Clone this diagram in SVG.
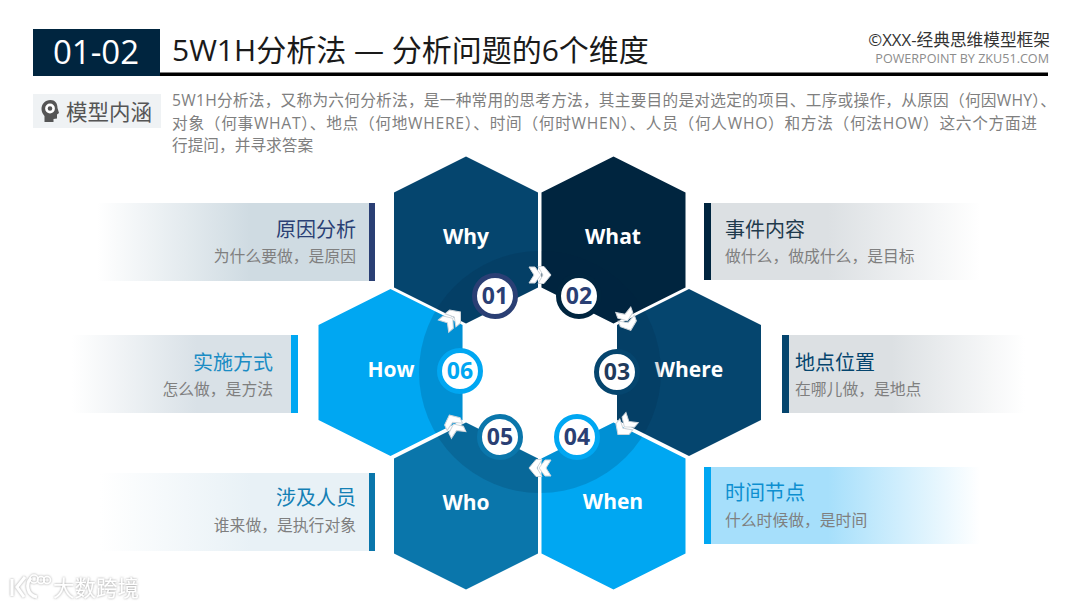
<svg xmlns="http://www.w3.org/2000/svg" xmlns:xlink="http://www.w3.org/1999/xlink" width="1080" height="608" viewBox="0 0 1080 608">
<style>
.cn{font-family:"Open Sans","Noto Sans CJK SC","Noto Sans",sans-serif}
.ti{font-size:20px}
.su{font-size:15.800px;fill:#7f7f7f}
.r{text-anchor:end}
.hx{font-family:"Open Sans","Noto Sans",sans-serif;font-weight:700;font-size:21px;fill:#fff;text-anchor:middle}
.num{font-family:"Open Sans","Noto Sans",sans-serif;font-weight:700;font-size:23px;text-anchor:middle}
.body{font-size:15.700px;fill:#7f7f7f}
.bd{fill:#fff;stroke-width:5}
</style>
<defs>
<linearGradient id="gL1" x1="0" x2="1" y1="0" y2="0"><stop offset="0" stop-color="#cfdbe2" stop-opacity="0"/><stop offset=".55" stop-color="#cfdbe2"/><stop offset="1" stop-color="#cfdbe2"/></linearGradient>
<linearGradient id="gL2" x1="0" x2="1" y1="0" y2="0"><stop offset="0" stop-color="#d9e1e7" stop-opacity="0"/><stop offset=".55" stop-color="#d9e1e7"/><stop offset="1" stop-color="#d9e1e7"/></linearGradient>
<linearGradient id="gL3" x1="0" x2="1" y1="0" y2="0"><stop offset="0" stop-color="#e8f1f6" stop-opacity="0"/><stop offset=".55" stop-color="#e8f1f6"/><stop offset="1" stop-color="#e8f1f6"/></linearGradient>
<linearGradient id="gR1" x1="0" x2="1" y1="0" y2="0"><stop offset="0" stop-color="#dce0e3"/><stop offset=".45" stop-color="#dce0e3"/><stop offset="1" stop-color="#dce0e3" stop-opacity="0"/></linearGradient>
<linearGradient id="gR3" x1="0" x2="1" y1="0" y2="0"><stop offset="0" stop-color="#a6dffb"/><stop offset=".45" stop-color="#a6dffb"/><stop offset="1" stop-color="#a6dffb" stop-opacity="0"/></linearGradient>
<polygon id="hex" points="72,0 144,36 144,131 72,167 0,131 0,36"/>
<clipPath id="hexClip">
<use xlink:href="#hex" href="#hex" transform="translate(394,156.500)"/>
<use xlink:href="#hex" href="#hex" transform="translate(541.500,156.500)"/>
<use xlink:href="#hex" href="#hex" transform="translate(617,289)"/>
<use xlink:href="#hex" href="#hex" transform="translate(541.500,422.500)"/>
<use xlink:href="#hex" href="#hex" transform="translate(394,422.500)"/>
<use xlink:href="#hex" href="#hex" transform="translate(318.500,289)"/>
</clipPath>
<path id="chev" d="M-11,-8 L-5,-8 L1,0 L-5,8 L-11,8 L-6,0 Z M-2,-8.500 L4,-8.500 L11,0 L4,8.500 L-2,8.500 L3,0 Z" fill="#fff" stroke="#cfd5da" stroke-width="1"/>
<filter id="wm" x="-10%" y="-30%" width="120%" height="160%"><feDropShadow dx="0" dy="0" stdDeviation="1.300" flood-color="#8a8a8a" flood-opacity=".9"/></filter>
</defs>
<rect width="1080" height="608" fill="#fff"/>

<g id="header">
<rect x="33" y="29" width="127" height="47" fill="#00253f"/>
<rect x="160" y="72.500" width="888" height="3.500" fill="#000"/>
<text class="cn" x="96" y="64" text-anchor="middle" font-size="33" fill="#fff">01-02</text>
<text class="cn" x="172" y="61" font-size="30" fill="#1a1a1a">5W1H分析法 — 分析问题的6个维度</text>
<text class="cn r" x="1050" y="46" font-size="16.700" fill="#333">©XXX-经典思维模型框架</text>
<text class="cn r" x="1049" y="63" font-size="12.600" fill="#8c8c8c">POWERPOINT BY ZKU51.COM</text>
</g>

<g id="intro">
<rect x="33" y="94" width="128" height="34" fill="#eff2f4"/>
<path d="M50.500,100 C45,100 41.500,104 41.500,109 C41.500,112 43,114 44.500,116 L44.500,122 L53.500,122 L53.500,119 L57,118.500 L57,114.500 L59,113 L57.500,108 C57.500,103 55,100 50.500,100 Z" fill="#555"/>
<circle cx="50" cy="108.500" r="3.600" fill="#555" stroke="#fff" stroke-width="2.600"/>
<text class="cn" x="66" y="120" font-size="21.500" fill="#555">模型内涵</text>
<text class="cn body" x="172" y="106" textLength="884" lengthAdjust="spacing">5W1H分析法，又称为六何分析法，是一种常用的思考方法，其主要目的是对选定的项目、工序或操作，从原因（何因WHY）、</text>
<text class="cn body" x="172" y="129" textLength="865" lengthAdjust="spacing">对象（何事WHAT）、地点（何地WHERE）、时间（何时WHEN）、人员（何人WHO）和方法（何法HOW）这六个方面进</text>
<text class="cn body" x="172" y="151">行提问，并寻求答案</text>
</g>

<g id="panel-why">
<rect x="97" y="203" width="278" height="78" fill="url(#gL1)"/>
<rect x="369" y="203" width="6" height="78" fill="#2a3f74"/>
<text class="cn ti r" x="356" y="237" fill="#2a3f74">原因分析</text>
<text class="cn su r" x="356" y="262">为什么要做，是原因</text>
</g>
<g id="panel-how">
<rect x="72" y="335" width="226" height="78" fill="url(#gL2)"/>
<rect x="291" y="335" width="7" height="78" fill="#00a7f2"/>
<text class="cn ti r" x="273" y="370" fill="#1b8cc4">实施方式</text>
<text class="cn su r" x="273" y="395">怎么做，是方法</text>
</g>
<g id="panel-who">
<rect x="100" y="473" width="275" height="78" fill="url(#gL3)"/>
<rect x="369" y="473" width="6" height="78" fill="#0a76ab"/>
<text class="cn ti r" x="356" y="505" fill="#1480b5">涉及人员</text>
<text class="cn su r" x="356" y="531">谁来做，是执行对象</text>
</g>
<g id="panel-what">
<rect x="704" y="203" width="276" height="77" fill="url(#gR1)"/>
<rect x="704" y="203" width="7" height="77" fill="#00253f"/>
<text class="cn ti" x="725" y="237" fill="#1f3a4c">事件内容</text>
<text class="cn su" x="725" y="262">做什么，做成什么，是目标</text>
</g>
<g id="panel-where">
<rect x="782" y="335" width="243" height="78" fill="url(#gR1)"/>
<rect x="782" y="335" width="7" height="78" fill="#05456e"/>
<text class="cn ti" x="795" y="370" fill="#05456e">地点位置</text>
<text class="cn su" x="795" y="395">在哪儿做，是地点</text>
</g>
<g id="panel-when">
<rect x="704" y="467" width="276" height="77" fill="url(#gR3)"/>
<rect x="704" y="467" width="7" height="77" fill="#00a7f2"/>
<text class="cn ti" x="725" y="500" fill="#0d8fd0">时间节点</text>
<text class="cn su" x="725" y="526">什么时候做，是时间</text>
</g>

<g id="hex-why"><use href="#hex" transform="translate(394,156.500)" fill="#05456e"/><text class="hx" x="466" y="244">Why</text></g>
<g id="hex-what"><use href="#hex" transform="translate(541.500,156.500)" fill="#00253f"/><text class="hx" x="613" y="244">What</text></g>
<g id="hex-where"><use href="#hex" transform="translate(617,289)" fill="#05456e"/><text class="hx" x="689" y="377">Where</text></g>
<g id="hex-when"><use href="#hex" transform="translate(541.500,422.500)" fill="#00a7f2"/><text class="hx" x="613" y="509">When</text></g>
<g id="hex-who"><use href="#hex" transform="translate(394,422.500)" fill="#0a76ab"/><text class="hx" x="466" y="510">Who</text></g>
<g id="hex-how"><use href="#hex" transform="translate(318.500,289)" fill="#00a7f2"/><text class="hx" x="391" y="377">How</text></g>

<circle id="ring" cx="540" cy="372" r="121" fill="#00253f" fill-opacity=".17" clip-path="url(#hexClip)"/>

<g id="connectors">
<use href="#chev" transform="translate(540,275)"/>
<use href="#chev" transform="translate(627,320) rotate(70)"/>
<use href="#chev" transform="translate(625,426) rotate(130)"/>
<use href="#chev" transform="translate(540,468) rotate(180)"/>
<use href="#chev" transform="translate(454,425) rotate(245)"/>
<use href="#chev" transform="translate(452,319) rotate(320)"/>
</g>

<g id="badge-01"><circle class="bd" cx="495" cy="296" r="20.500" stroke="#2a3f74"/><text class="num" x="495" y="304" fill="#2a3f74">01</text></g>
<g id="badge-02"><circle class="bd" cx="579" cy="296" r="20.500" stroke="#00253f"/><text class="num" x="579" y="304" fill="#2a3f74">02</text></g>
<g id="badge-03"><circle class="bd" cx="617" cy="372" r="20.500" stroke="#05456e"/><text class="num" x="617" y="380" fill="#1f3a5c">03</text></g>
<g id="badge-04"><circle class="bd" cx="577" cy="437" r="20.500" stroke="#00a7f2"/><text class="num" x="577" y="445" fill="#2a3f74">04</text></g>
<g id="badge-05"><circle class="bd" cx="500" cy="437" r="20.500" stroke="#0a76ab"/><text class="num" x="500" y="445" fill="#2a3f74">05</text></g>
<g id="badge-06"><circle class="bd" cx="460" cy="371" r="20.500" stroke="#00a7f2"/><text class="num" x="460" y="379" fill="#00a7f2">06</text></g>

<g id="watermark" filter="url(#wm)">
<path d="M12,579 L12,596 M25,577 L17,587 L24,597 M31,578 C26,583 26,595 37,597" fill="none" stroke="#fff" stroke-width="3"/>
<circle cx="34" cy="579" r="4" fill="none" stroke="#fff" stroke-width="1.500"/>
<circle cx="41" cy="580" r="3.500" fill="none" stroke="#fff" stroke-width="1.500"/>
<circle cx="47" cy="580" r="3.500" fill="none" stroke="#fff" stroke-width="1.500"/>
<text class="cn" x="53" y="596" font-size="21.500" fill="#fff">大数跨境</text>
</g>
</svg>
